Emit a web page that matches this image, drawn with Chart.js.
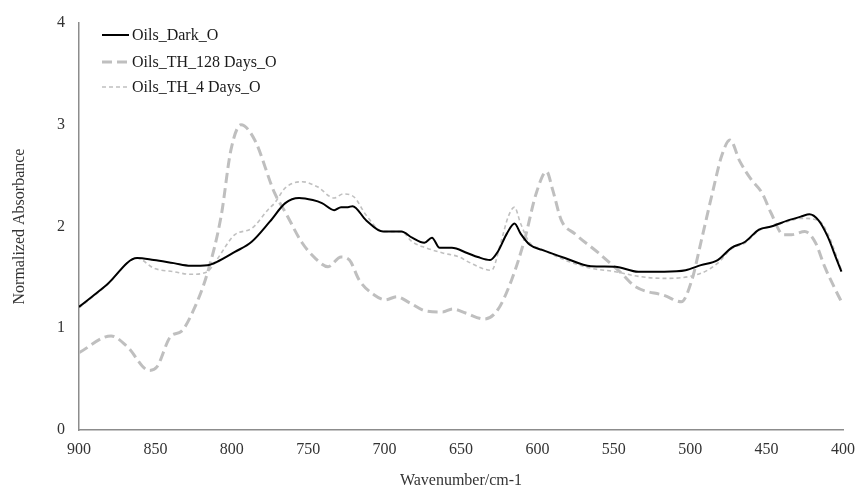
<!DOCTYPE html>
<html>
<head>
<meta charset="utf-8">
<script src="https://cdn.jsdelivr.net/npm/chart.js@4.4.1/dist/chart.umd.min.js"></script>
<style>
  html, body { margin: 0; padding: 0; background: #fff; }
  #wrap { width: 857px; height: 498px; }
</style>
</head>
<body>
<div id="wrap"><canvas id="myChart" width="857" height="498"></canvas></div>
<script>
// Nama seri
const seriesNames = ['Oils_Dark_O', 'Oils_TH_128 Days_O', 'Oils_TH_4 Days_O'];

// Oils_Dark_O
const darkX = [900, 882, 862, 851, 838, 827, 816, 810, 798, 787, 775, 765, 756, 747, 741, 733, 728.5, 724, 721, 712,
  701, 689, 682, 674, 669, 664, 656, 646, 639, 631, 626, 620, 615, 611, 605, 597, 582, 565, 549, 534,
  517, 503, 493, 482, 473, 464, 455, 447, 436, 427, 422, 416, 410, 404, 401];
const darkY = [1.21, 1.425, 1.69, 1.67, 1.64, 1.615, 1.62, 1.65, 1.75, 1.85, 2.05, 2.23, 2.28, 2.26, 2.23, 2.16, 2.19, 2.19, 2.20, 2.06,
  1.95, 1.95, 1.89, 1.84, 1.89, 1.79, 1.79, 1.74, 1.70, 1.67, 1.75, 1.93, 2.03, 1.93, 1.82, 1.77, 1.69, 1.61, 1.605, 1.556,
  1.556, 1.57, 1.62, 1.67, 1.79, 1.85, 1.97, 2.00, 2.06, 2.10, 2.12, 2.06, 1.90, 1.67, 1.556];

// Oils_TH_128 Days_O
const d128X = [900, 879, 868.5, 854, 849, 840, 833, 825, 816, 807, 800.6, 794, 785, 772, 764.6, 754, 745.5, 737, 728.5, 723,
  716.5, 707, 699.5, 692, 683.6, 673, 662, 655.6, 647, 634.6, 626, 617, 608.4, 600.7, 594, 590, 584.3, 575.6, 560, 545,
  536, 516.6, 505.8, 499, 492.6, 485, 479.5, 474, 467.5, 460, 453, 447, 439, 433.6, 425, 418, 412, 405, 400];
const d128Y = [0.76, 0.925, 0.82, 0.585, 0.62, 0.92, 0.97, 1.18, 1.54, 2.10, 2.75, 3.0, 2.85, 2.33, 2.13, 1.84, 1.69, 1.605, 1.70, 1.67,
  1.47, 1.33, 1.28, 1.31, 1.25, 1.17, 1.16, 1.19, 1.15, 1.09, 1.18, 1.47, 1.87, 2.33, 2.54, 2.36, 2.06, 1.93, 1.74, 1.54,
  1.41, 1.32, 1.26, 1.47, 1.87, 2.36, 2.69, 2.85, 2.64, 2.46, 2.33, 2.13, 1.92, 1.92, 1.95, 1.84, 1.605, 1.38, 1.23];

// Oils_TH_4 Days_O
const d4X = [900, 882, 862, 851, 838, 827, 816, 810, 798, 787, 776, 772, 765, 754, 744, 733, 727, 720, 712, 701,
  689, 682, 673, 662, 651, 645, 630, 624, 619, 615, 611, 605, 597.5, 582, 565, 549, 534, 517, 493, 482,
  473, 464, 455, 447, 436, 427, 416, 410, 404, 401];
const d4Y = [1.2, 1.42, 1.69, 1.59, 1.556, 1.53, 1.556, 1.67, 1.92, 1.98, 2.17, 2.23, 2.38, 2.44, 2.39, 2.28, 2.32, 2.29, 2.11, 1.95,
  1.95, 1.85, 1.79, 1.74, 1.70, 1.65, 1.57, 1.84, 2.10, 2.19, 2.03, 1.84, 1.78, 1.67, 1.59, 1.556, 1.51, 1.49, 1.54, 1.64,
  1.78, 1.84, 1.96, 2.0, 2.05, 2.08, 2.06, 1.93, 1.70, 1.57];

const yTicks = [0, 1, 2, 3, 4];

function toPoints(xs, ys) {
  return xs.map((x, i) => ({ x: x, y: ys[i] }));
}

const FONT = 'Liberation Serif';

// Legenda manual di pojok kiri atas
const legendPlugin = {
  id: 'manualLegend',
  afterDraw(chart) {
    const c = chart.ctx;
    const rows = [35, 62, 87];
    c.save();
    chart.data.datasets.forEach((ds, i) => {
      c.beginPath();
      c.strokeStyle = ds.borderColor;
      c.lineWidth = ds.borderWidth;
      c.setLineDash(ds.borderDash || []);
      c.moveTo(102, rows[i]);
      c.lineTo(129, rows[i]);
      c.stroke();
      c.setLineDash([]);
      c.fillStyle = '#1a1a1a';
      c.font = '16px "' + FONT + '"';
      c.textBaseline = 'middle';
      c.fillText(ds.label, 132, rows[i] + 1);
    });
    c.restore();
  }
};

const ctx = document.getElementById('myChart').getContext('2d');

const myChart = new Chart(ctx, {
  type: 'line',
  data: {
    datasets: [
      {
        label: seriesNames[0],
        data: toPoints(darkX, darkY),
        borderColor: '#000000',
        borderWidth: 2,
        pointRadius: 0,
        cubicInterpolationMode: 'monotone',
        order: 0
      },
      {
        label: seriesNames[1],
        data: toPoints(d128X, d128Y),
        borderColor: '#bfbfbf',
        borderWidth: 3,
        borderDash: [10, 5],
        pointRadius: 0,
        cubicInterpolationMode: 'monotone',
        order: 2
      },
      {
        label: seriesNames[2],
        data: toPoints(d4X, d4Y),
        borderColor: '#c0c0c0',
        borderWidth: 1.6,
        borderDash: [4, 3],
        pointRadius: 0,
        cubicInterpolationMode: 'monotone',
        order: 1
      }
    ]
  },
  options: {
    responsive: false,
    animation: false,
    layout: { padding: { left: 0, right: 14, top: 23, bottom: 0 } },
    plugins: {
      legend: { display: false },
      tooltip: { enabled: false }
    },
    scales: {
      x: {
        type: 'linear',
        reverse: true,
        min: 400,
        max: 900,
        grid: { display: false, drawTicks: false },
        border: { display: true, color: '#8c8c8c', width: 1.5 },
        ticks: {
          stepSize: 50,
          padding: 10,
          color: '#333',
          font: { family: FONT, size: 16 }
        },
        title: {
          display: true,
          text: 'Wavenumber/cm-1',
          color: '#333',
          font: { family: FONT, size: 16 },
          padding: { top: 0, bottom: 8 }
        },
        afterFit(scale) {
          scale.height = 68;
          scale.paddingLeft = 0;
          scale.paddingRight = 0;
        }
      },
      y: {
        min: 0,
        max: 4,
        grid: { display: false, drawTicks: false },
        border: { display: true, color: '#8c8c8c', width: 1.5 },
        afterBuildTicks(scale) { scale.ticks = yTicks.map(v => ({ value: v })); },
        ticks: {
          padding: 14,
          color: '#333',
          font: { family: FONT, size: 16 }
        },
        title: {
          display: true,
          text: 'Normalized Absorbance',
          color: '#333',
          font: { family: FONT, size: 16 },
          padding: { top: 10, bottom: 0 }
        },
        afterFit(scale) {
          scale.width = 79;
          scale.paddingTop = 0;
          scale.paddingBottom = 0;
        }
      }
    }
  },
  plugins: [legendPlugin]
});
</script>
</body>
</html>
